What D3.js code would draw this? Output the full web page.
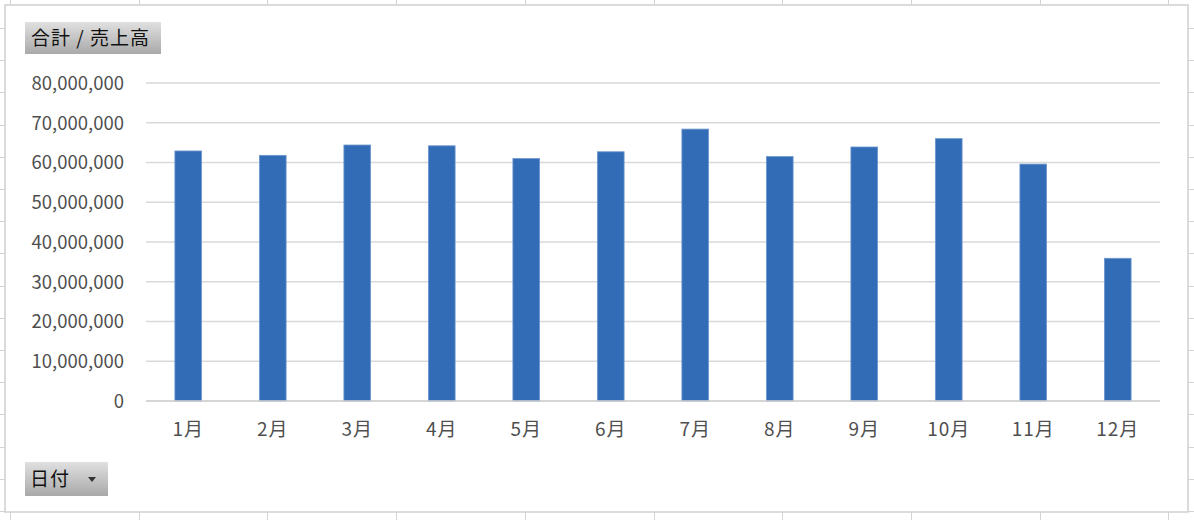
<!DOCTYPE html>
<html>
<head>
<meta charset="utf-8">
<script src="https://cdn.jsdelivr.net/npm/d3@7"></script>
<style>
  body { margin: 0; background: #fff; }
  svg text { font-family: "Noto Sans CJK JP", "Noto Sans", sans-serif; }
</style>
</head>
<body>
<svg id="chart" width="1194" height="520"></svg>
<script>
// monthly sales totals (売上高)
const months = ["1月", "2月", "3月", "4月", "5月", "6月", "7月", "8月", "9月", "10月", "11月", "12月"];
const sales = [62900000, 61800000, 64400000, 64200000, 61000000, 62700000,
               68400000, 61500000, 63900000, 66000000, 59600000, 35900000];
const yTicks = [0, 10000000, 20000000, 30000000, 40000000, 50000000, 60000000, 70000000, 80000000];
const titleLabel = "合計 / 売上高";
const fieldLabel = "日付";

const svg = d3.select("#chart");
const W = 1194, H = 520;

// worksheet cell grid behind the chart
const sheet = svg.append("g").attr("stroke", "#d4d4d4").attr("stroke-width", 1);
d3.range(0, 10).forEach(i => {
  const x = Math.round(10 + i * 128.7) + 0.5;
  sheet.append("line").attr("x1", x).attr("x2", x).attr("y1", 0).attr("y2", H);
});
d3.range(0, 17).forEach(i => {
  const y = Math.round(28 + i * 32.2) + 0.5;
  sheet.append("line").attr("x1", 0).attr("x2", W).attr("y1", y).attr("y2", y);
});

// chart area
svg.append("rect")
  .attr("x", 5).attr("y", 5).attr("width", 1183).attr("height", 507)
  .attr("fill", "#fff").attr("stroke", "#d0d0d0").attr("stroke-width", 1.5);

const plot = { left: 146, right: 1160, top: 83, bottom: 401 };

const x = d3.scaleBand()
  .domain(months)
  .range([plot.left, plot.right])
  .paddingInner(0.684)
  .paddingOuter(0.342);

const y = d3.scaleLinear()
  .domain([0, 80000000])
  .range([plot.bottom, plot.top]);

// horizontal gridlines
svg.append("g")
  .selectAll("line")
  .data(yTicks)
  .join("line")
  .attr("x1", plot.left).attr("x2", plot.right)
  .attr("y1", d => y(d)).attr("y2", d => y(d))
  .attr("stroke", "#d9d9d9").attr("stroke-width", 1.5);

// y axis labels
const yAxis = svg.append("g")
  .attr("transform", `translate(${plot.left - 22},0)`)
  .call(d3.axisLeft(y).tickValues(yTicks).tickSize(0).tickPadding(0)
    .tickFormat(d3.format(",")));
yAxis.select(".domain").remove();
yAxis.selectAll("text")
  .attr("fill", "#4f4f4f").attr("font-size", 18.5).attr("dy", "0.35em");

// bars
svg.append("g")
  .selectAll("rect")
  .data(months)
  .join("rect")
  .attr("x", d => x(d))
  .attr("width", x.bandwidth())
  .attr("y", (d, i) => y(sales[i]))
  .attr("height", (d, i) => y(0) - y(sales[i]))
  .attr("fill", "#336cb6")
  .attr("stroke", "#6f97cf").attr("stroke-width", 0.8);

// baseline
svg.append("line")
  .attr("x1", plot.left).attr("x2", plot.right)
  .attr("y1", y(0)).attr("y2", y(0))
  .attr("stroke", "#d0d0d0").attr("stroke-width", 1.5);

// x axis labels
const xAxis = svg.append("g")
  .attr("transform", `translate(0,${plot.bottom + 21})`)
  .call(d3.axisBottom(x).tickSize(0).tickPadding(0));
xAxis.select(".domain").remove();
xAxis.selectAll("text")
  .attr("fill", "#4f4f4f").attr("font-size", 19).attr("dy", "0.71em")
  .attr("letter-spacing", 1);

// pivot field buttons
const defs = svg.append("defs");
const grad = defs.append("linearGradient")
  .attr("id", "btn").attr("x1", 0).attr("x2", 0).attr("y1", 0).attr("y2", 1);
grad.append("stop").attr("offset", "0%").attr("stop-color", "#e0e0e0");
grad.append("stop").attr("offset", "100%").attr("stop-color", "#a9a9a9");

const titleBtn = svg.append("g").attr("transform", "translate(25,22)");
titleBtn.append("rect").attr("width", 136).attr("height", 32).attr("fill", "url(#btn)");
titleBtn.append("text")
  .attr("x", 6).attr("y", 16).attr("dy", "0.36em")
  .attr("font-size", 19).attr("fill", "#111").attr("letter-spacing", 1)
  .attr("xml:space", "preserve")
  .text(titleLabel);

const fieldBtn = svg.append("g").attr("transform", "translate(25,462)");
fieldBtn.append("rect").attr("width", 83).attr("height", 34).attr("fill", "url(#btn)");
fieldBtn.append("text")
  .attr("x", 5).attr("y", 17).attr("dy", "0.36em")
  .attr("font-size", 19).attr("fill", "#111").attr("letter-spacing", 1)
  .text(fieldLabel);
fieldBtn.append("path")
  .attr("d", "M63,15 L71,15 L67,20 Z")
  .attr("fill", "#333");
</script>
</body>
</html>
